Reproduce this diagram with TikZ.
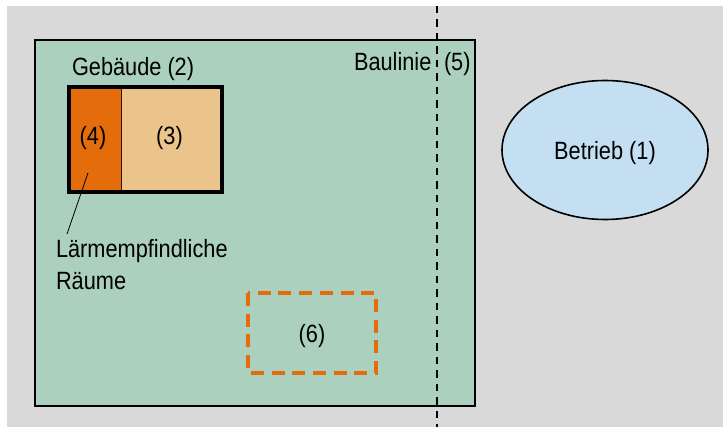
\documentclass[tikz,border=0pt]{standalone}
\usepackage{fontspec}
\usetikzlibrary{shapes.geometric}
\setmainfont[FakeStretch=0.87]{Liberation Sans}
\definecolor{grayarea}{HTML}{D9D9D9}
\definecolor{plot}{HTML}{ABD1BE}
\definecolor{roomdark}{HTML}{E46C0A}
\definecolor{roomlight}{HTML}{EBC48C}
\definecolor{works}{HTML}{C4DFF2}
\tikzset{
  lab/.style={inner sep=0pt,outer sep=0pt,font=\fontsize{25}{25}\selectfont,text=black,anchor=base west},
  area/.style={inner sep=0pt,outer sep=0pt},
}
\begin{document}
\begin{tikzpicture}[x=1pt,y=-1pt]
\useasboundingbox (0,0) rectangle (723,427);
\fill[grayarea] (7,6) rectangle (723,427);
\node[area,draw=black,fill=plot,line width=1.6pt,minimum width=440pt,minimum height=366pt] (plotarea) at (255,223) {};
\node[area,fill=roomdark,minimum width=52.5pt,minimum height=105pt] (room4) at (95.25,139.5) {};
\node[area,fill=roomlight,minimum width=100.5pt,minimum height=105pt] (room3) at (171.75,139.5) {};
\draw[line width=.7pt,black!80!roomdark] (room4.north east) -- (room4.south east);
\draw[line width=3.4pt,black] (room4.north west) rectangle (room3.south east);
\node[area,draw=black,fill=works,ellipse,line width=1.6pt,minimum width=206pt,minimum height=139pt] (betrieb) at (605,150) {};
\node[area,minimum width=128pt,minimum height=80pt] (zone) at (312,333) {};
\draw[roomdark,line width=4pt,dash pattern=on 13pt off 7.7pt] (zone.north west) rectangle (zone.south east);
\coordinate (linetop) at (437,6);
\coordinate (linebot) at (437,427);
\draw[line width=1.6pt,dash pattern=on 7.5pt off 6pt] (linetop) -- (linebot);
\coordinate (leadA) at (88,173);
\coordinate (leadB) at (67,234);
\draw[line width=.8pt] (leadA) -- (leadB);
\node[lab] at (72,76) {Gebäude (2)};
\node[lab,anchor=base] at (93,145) {(4)};
\node[lab,anchor=base] at (169.5,145) {(3)};
\node[lab] at (354,71) {Baulinie};
\node[lab] at (444,71) {(5)};
\node[lab,anchor=base] at (605,160) {Betrieb (1)};
\node[lab] at (56,258) {Lärmempfindliche};
\node[lab] at (56,290) {Räume};
\node[lab,anchor=base] at (312,343) {(6)};
\end{tikzpicture}
\end{document}
